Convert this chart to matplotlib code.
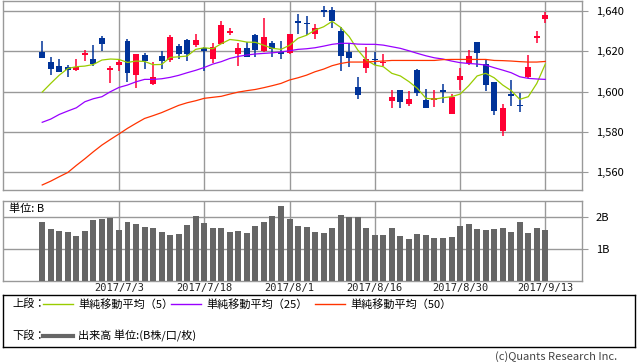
import numpy as np
import matplotlib
matplotlib.use('Agg')
import matplotlib.pyplot as plt

plt.rcParams['font.family'] = ['Noto Sans CJK JP', 'DejaVu Sans']

# daily candles, 2017/6/20 .. 2017/9/13 (60 trading days)
opens = [1619.8, 1614.7, 1612.7, 1612.2, 1610.7, 1618.3, 1616.0, 1626.6, 1610.9, 1613.4,
         1625.1, 1608.4, 1618.2, 1603.9, 1617.7, 1615.7, 1622.6, 1625.6, 1623.1, 1621.5,
         1616.3, 1623.6, 1629.1, 1618.8, 1621.5, 1628.1, 1620.3, 1624.1, 1619.8, 1619.0,
         1635.0, 1634.0, 1628.8, 1640.5, 1640.5, 1630.1, 1619.8, 1602.2, 1611.9, 1616.2,
         1614.1, 1595.5, 1600.8, 1594.0, 1610.7, 1595.8, 1595.8, 1600.8, 1588.7, 1605.8,
         1614.0, 1624.8, 1613.7, 1604.9, 1580.6, 1598.8, 1593.5, 1607.1, 1626.8, 1636.2]
closes = [1616.8, 1611.4, 1609.9, 1610.9, 1612.4, 1619.2, 1613.7, 1623.6, 1611.7, 1614.7,
          1609.4, 1618.7, 1615.2, 1607.2, 1615.2, 1627.1, 1618.7, 1618.7, 1625.6, 1620.2,
          1622.1, 1633.1, 1630.1, 1621.6, 1617.0, 1620.8, 1627.1, 1621.0, 1618.5, 1628.8,
          1634.2, 1633.5, 1631.6, 1639.3, 1635.2, 1617.8, 1616.8, 1598.5, 1616.2, 1615.5,
          1614.9, 1597.3, 1595.0, 1596.3, 1599.5, 1592.0, 1597.0, 1600.0, 1597.5, 1607.7,
          1617.7, 1619.3, 1603.3, 1590.5, 1592.0, 1598.0, 1593.0, 1612.0, 1627.8, 1638.0]
highs = [1625.1, 1617.3, 1616.0, 1613.2, 1616.0, 1620.6, 1623.1, 1627.6, 1612.7, 1616.0,
         1625.9, 1618.7, 1619.3, 1614.7, 1620.2, 1628.1, 1623.6, 1625.9, 1628.8, 1622.3,
         1624.0, 1635.0, 1631.6, 1624.1, 1624.9, 1628.8, 1636.7, 1625.1, 1625.1, 1628.8,
         1638.5, 1637.5, 1633.5, 1642.5, 1642.2, 1631.9, 1624.0, 1607.1, 1622.0, 1619.5,
         1618.7, 1600.8, 1600.8, 1600.4, 1611.2, 1601.1, 1600.8, 1603.8, 1598.8, 1611.7,
         1620.6, 1624.8, 1615.7, 1604.9, 1593.7, 1605.8, 1599.1, 1618.2, 1630.1, 1639.7]
lows = [1616.8, 1608.4, 1609.9, 1607.4, 1610.4, 1615.2, 1612.7, 1620.2, 1604.4, 1610.4,
        1604.9, 1602.0, 1611.4, 1603.4, 1611.4, 1614.9, 1616.2, 1615.4, 1622.0, 1610.4,
        1614.4, 1623.6, 1627.9, 1612.9, 1617.0, 1617.3, 1619.5, 1617.3, 1616.2, 1618.7,
        1628.8, 1627.9, 1626.1, 1637.2, 1631.4, 1610.4, 1612.4, 1596.2, 1609.4, 1613.2,
        1612.7, 1592.0, 1592.0, 1592.9, 1597.8, 1592.0, 1592.5, 1594.5, 1588.7, 1600.8,
        1613.2, 1612.4, 1600.5, 1588.4, 1578.1, 1592.9, 1590.0, 1606.6, 1624.3, 1634.2]

# moving averages as drawn on the chart
ma5 = [1599.8, 1604.1, 1608.2, 1611.5, 1612.4, 1612.7, 1613.5, 1615.7, 1616.2, 1616.0,
       1614.5, 1615.2, 1615.0, 1613.4, 1613.5, 1617.0, 1617.3, 1617.7, 1621.0, 1621.8,
       1621.3, 1623.8, 1625.9, 1625.4, 1624.6, 1624.5, 1623.0, 1621.5, 1621.0, 1623.0,
       1626.5, 1628.0, 1630.6, 1632.2, 1634.9, 1631.9, 1627.3, 1620.7, 1615.7, 1613.2,
       1612.4, 1609.1, 1607.8, 1605.0, 1601.6, 1596.7, 1596.3, 1597.0, 1597.5, 1598.8,
       1602.9, 1607.8, 1609.1, 1606.9, 1603.3, 1600.5, 1596.2, 1597.5, 1604.1, 1613.7]
ma25 = [1584.8, 1586.4, 1588.7, 1590.4, 1592.0, 1595.0, 1596.5, 1597.5, 1600.0, 1602.1,
        1603.3, 1604.9, 1606.1, 1606.1, 1606.4, 1607.1, 1608.1, 1609.4, 1610.6, 1612.0,
        1613.7, 1614.9, 1616.5, 1617.5, 1618.2, 1618.7, 1619.0, 1619.3, 1619.7, 1620.3,
        1621.0, 1621.3, 1621.8, 1622.6, 1623.5, 1624.0, 1624.0, 1623.6, 1623.5, 1623.5,
        1623.1, 1622.3, 1621.5, 1620.3, 1619.0, 1617.8, 1616.8, 1616.2, 1615.2, 1614.4,
        1614.0, 1613.7, 1613.2, 1611.9, 1610.7, 1609.4, 1607.4, 1606.6, 1606.3, 1606.1]
ma50 = [1553.7, 1555.6, 1557.8, 1559.9, 1563.4, 1566.7, 1570.2, 1573.5, 1576.3, 1579.0,
        1581.8, 1584.3, 1586.7, 1588.1, 1589.6, 1591.4, 1593.2, 1594.5, 1595.5, 1596.7,
        1597.2, 1597.7, 1598.8, 1599.8, 1600.5, 1601.1, 1602.0, 1603.0, 1604.1, 1605.8,
        1606.9, 1608.2, 1609.9, 1611.2, 1612.9, 1614.0, 1614.7, 1614.7, 1614.7, 1615.0,
        1615.2, 1615.5, 1615.5, 1615.5, 1615.5, 1615.5, 1615.5, 1615.9, 1616.0, 1616.0,
        1616.0, 1616.0, 1616.0, 1615.5, 1615.4, 1615.2, 1614.9, 1614.7, 1614.7, 1615.0]

# volume in B
volume = [1.85, 1.63, 1.57, 1.54, 1.41, 1.57, 1.92, 1.95, 1.98, 1.60,
          1.85, 1.79, 1.69, 1.66, 1.54, 1.44, 1.47, 1.76, 2.04, 1.82,
          1.66, 1.66, 1.54, 1.57, 1.51, 1.73, 1.85, 2.04, 2.33, 1.95,
          1.73, 1.69, 1.54, 1.51, 1.66, 2.07, 1.99, 1.99, 1.66, 1.44,
          1.44, 1.66, 1.41, 1.32, 1.47, 1.44, 1.35, 1.35, 1.38, 1.73,
          1.79, 1.63, 1.60, 1.63, 1.66, 1.54, 1.85, 1.51, 1.66, 1.60]

date_ticks = [9, 19, 29, 39, 49, 59]
date_labels = ['2017/7/3', '2017/7/18', '2017/8/1', '2017/8/16', '2017/8/30', '2017/9/13']
price_ticks = [1560, 1580, 1600, 1620, 1640]
vol_ticks = [1, 2]
vol_labels = ['1B', '2B']

W, H = 638, 362
GRID = '#999999'
UP, DOWN = '#ff0033', '#003399'


def box(l, t, r, b):
    return [l / W, 1 - b / H, (r - l) / W, (b - t) / H]


def style_axes(ax):
    for s in ax.spines.values():
        s.set_color(GRID)
        s.set_linewidth(1)
    ax.grid(True, color=GRID, linewidth=1)
    ax.set_axisbelow(True)
    ax.yaxis.tick_right()
    ax.tick_params(axis='y', direction='out', length=4, color=GRID, labelsize=8, pad=6)
    ax.tick_params(axis='x', length=0)


fig = plt.figure(figsize=(W / 100, H / 100), dpi=100)
x = np.arange(len(opens))
xlim = (-4.6, 63.3)

# price panel
ax = fig.add_axes(box(3, 1, 582, 190))
style_axes(ax)
o, c = np.array(opens), np.array(closes)
cols = [UP if cc >= oo else DOWN for oo, cc in zip(o, c)]
ax.vlines(x, lows, highs, colors=cols, linewidth=1.1, zorder=3)
body = np.maximum(np.abs(c - o), 0.6)
ax.bar(x, body, bottom=np.minimum(o, c), width=0.7, color=cols, zorder=4)
ax.plot(x, ma5, color='#99cc00', linewidth=0.9, zorder=5)
ax.plot(x, ma25, color='#9900ff', linewidth=0.9, zorder=5)
ax.plot(x, ma50, color='#ff3300', linewidth=0.9, zorder=5)
ax.set_xlim(*xlim)
ax.set_ylim(1551.2, 1645.0)
ax.set_xticks(date_ticks)
ax.set_xticklabels([])
ax.set_yticks(price_ticks)
ax.set_yticklabels(['{:,}'.format(p) for p in price_ticks])

# volume panel
av = fig.add_axes(box(3, 201, 582, 281))
style_axes(av)
av.bar(x, volume, width=0.7, color='#666666', zorder=3)
av.set_xlim(*xlim)
av.set_ylim(0, 2.5)
av.set_xticks(date_ticks)
av.set_xticklabels(date_labels, fontsize=7.5, color='#222222', family='DejaVu Sans Mono')
av.tick_params(axis='x', pad=1.5)
av.set_yticks(vol_ticks)
av.set_yticklabels(vol_labels)
av.text(0.01, 0.9, '単位: B', transform=av.transAxes, fontsize=8, va='center', ha='left')

# legend box
lg = fig.add_axes(box(3, 295, 635, 347))
lg.set_xlim(3, 635)
lg.set_ylim(347, 295)
lg.set_xticks([])
lg.set_yticks([])
for s in lg.spines.values():
    s.set_color('black')
    s.set_linewidth(1)
ly1, ly2 = 304, 336
lg.text(12, ly1, '上段：', fontsize=8, va='center')
items = [(43, '#99cc00', '単純移動平均（5）'),
         (171, '#9900ff', '単純移動平均（25）'),
         (315, '#ff3300', '単純移動平均（50）')]
for lx, col, txt in items:
    lg.plot([lx, lx + 30], [ly1, ly1], color=col, linewidth=1)
    lg.text(lx + 35, ly1, txt, fontsize=8, va='center')
lg.text(12, ly2, '下段：', fontsize=8, va='center')
lg.plot([43, 73], [ly2, ly2], color='#666666', linewidth=3)
lg.text(78, ly2, '出来高 単位:(B株/口/枚)', fontsize=8, va='center')

fig.text(617 / W, 1 - 357 / H, '(c)Quants Research Inc.', fontsize=8,
         ha='right', va='center', color='#444444')

fig.savefig('out.png', dpi=100)
